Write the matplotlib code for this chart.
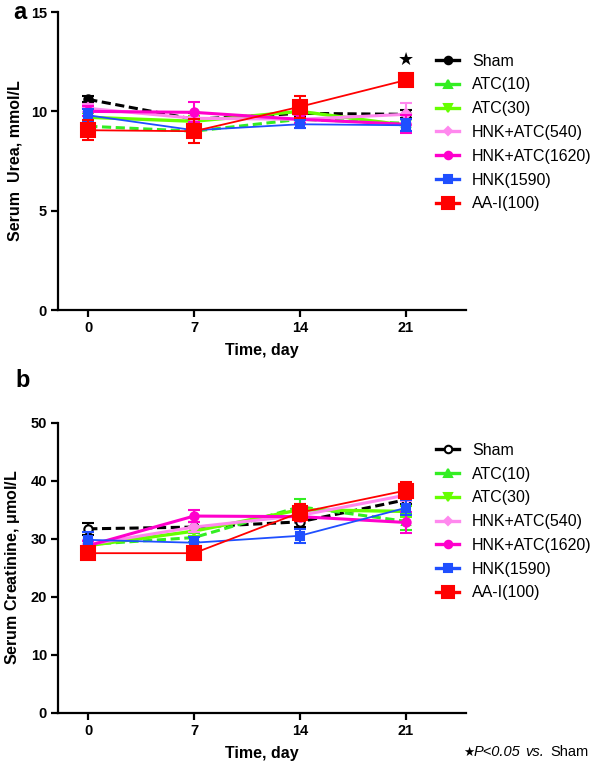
import matplotlib

matplotlib.use("Agg")
import matplotlib.pyplot as plt  # noqa: E402
from matplotlib.lines import Line2D  # noqa: E402

plt.rcParams["font.family"] = ["Liberation Sans", "DejaVu Sans"]

DAYS = [0, 7, 14, 21]
GROUPS = ["Sham", "ATC(10)", "ATC(30)", "HNK+ATC(540)", "HNK+ATC(1620)", "HNK(1590)", "AA-I(100)"]

# serum urea, mmol/L (mean, sem)
UREA = [
    [10.6, 9.6, 9.9, 9.85],
    [9.25, 9.0, 9.6, 9.4],
    [9.7, 9.5, 10.0, 9.3],
    [10.15, 9.65, 9.6, 9.85],
    [10.0, 9.95, 9.6, 9.35],
    [9.8, 9.05, 9.35, 9.3],
    [9.05, 9.0, 10.23, 11.57],
]
UREA_SEM = [
    [0.15, 0.3, 0.2, 0.2],
    [0.2, 0.3, 0.25, 0.4],
    [0.2, 0.25, 0.2, 0.3],
    [0.2, 0.3, 0.25, 0.55],
    [0.25, 0.5, 0.2, 0.45],
    [0.3, 0.3, 0.2, 0.3],
    [0.5, 0.6, 0.55, 0.3],
]

# serum creatinine, umol/L (mean, sem)
CREA = [
    [31.7, 32.0, 32.9, 36.7],
    [29.0, 30.2, 35.5, 33.0],
    [28.8, 31.3, 35.0, 34.7],
    [29.0, 32.0, 34.0, 37.5],
    [28.8, 33.9, 33.8, 32.8],
    [29.8, 29.3, 30.5, 35.3],
    [27.5, 27.5, 34.5, 38.3],
]
CREA_SEM = [
    [1.0, 0.8, 0.8, 0.8],
    [0.8, 0.8, 1.3, 1.5],
    [0.8, 0.8, 1.0, 1.0],
    [0.8, 0.8, 1.0, 1.0],
    [0.8, 1.0, 0.8, 1.8],
    [1.3, 1.0, 1.2, 1.3],
    [0.8, 0.8, 1.5, 1.5],
]

STYLES = [
    dict(color="black", ls=(0, (3, 1.5)), lw=2.2, marker="o", ms=6),
    dict(color="#33ee22", ls=(0, (3, 1.5)), lw=2.2, marker="^", ms=6),
    dict(color="#66ff00", ls="-", lw=2.4, marker="v", ms=6),
    dict(color="#ff88ee", ls="-", lw=2.2, marker="D", ms=5),
    dict(color="#ff00cc", ls="-", lw=2.2, marker="o", ms=6),
    dict(color="#1f4fff", ls="-", lw=1.3, marker="s", ms=6),
    dict(color="#ff0000", ls="-", lw=1.3, marker="s", ms=10),
]


def _panel(ax, means, sems, ymax, yticks, ylabel, open_sham):
    handles = []
    for i, (name, m, e, st) in enumerate(zip(GROUPS, means, sems, STYLES)):
        mfc = "white" if (open_sham and i == 0) else st["color"]
        ax.errorbar(DAYS, m, yerr=e, color=st["color"], ls=st["ls"], lw=st["lw"],
                    marker=st["marker"], ms=st["ms"], mfc=mfc, mec=st["color"],
                    mew=1.5, capsize=4, elinewidth=1.5, capthick=1.5,
                    zorder=3 + i)
        handles.append(Line2D([], [], color=st["color"], ls="-", lw=2.4,
                              marker=st["marker"], ms=st["ms"] * 0.9, mfc=mfc,
                              mec=st["color"], mew=1.5, label=name))
    ax.set_xlim(-2, 25)
    ax.set_ylim(0, ymax)
    ax.set_xticks(DAYS)
    ax.set_yticks(yticks)
    for s in ("top", "right"):
        ax.spines[s].set_visible(False)
    for s in ("left", "bottom"):
        ax.spines[s].set_linewidth(1.6)
    ax.tick_params(width=1.6, length=5, labelsize=10.5, pad=3)
    for t in ax.get_xticklabels() + ax.get_yticklabels():
        t.set_fontweight("bold")
    ax.set_xlabel("Time, day", fontsize=11.5, fontweight="bold", labelpad=6)
    ax.set_ylabel(ylabel, fontsize=11.5, fontweight="bold", labelpad=6)
    return handles


fig = plt.figure(figsize=(6.0, 7.66), dpi=100)
ax1 = fig.add_axes([0.0967, 0.5953, 0.68, 0.389])
ax2 = fig.add_axes([0.0967, 0.0696, 0.68, 0.3786])

h1 = _panel(ax1, UREA, UREA_SEM, 15, [0, 5, 10, 15], "Serum  Urea, mmol/L", False)
h2 = _panel(ax2, CREA, CREA_SEM, 50, [0, 10, 20, 30, 40, 50],
            "Serum Creatinine, $\\mathregular{\\mu}$mol/L", True)

ax1.text(21, 12.6, "★", ha="center", va="center", fontsize=13, family=["DejaVu Sans"])

for handles, top in ((h1, 0.93), (h2, 0.422)):
    fig.legend(handles=handles, loc="upper left", bbox_to_anchor=(0.727, top), frameon=False,
               fontsize=11.5, handlelength=1.45, handletextpad=0.8, labelspacing=0.55,
               borderpad=0, borderaxespad=0)

fig.text(0.022, 0.999, "a", fontsize=17, fontweight="bold", va="top")
fig.text(0.026, 0.518, "b", fontsize=17, fontweight="bold", va="top")

fig.text(0.772, 0.018, "★", fontsize=9, family=["DejaVu Sans"], va="center")
fig.text(0.789, 0.018, "P<0.05", fontsize=10.5, style="italic", va="center")
fig.text(0.876, 0.018, "vs.", fontsize=10.5, style="italic", va="center")
fig.text(0.917, 0.018, "Sham", fontsize=10.5, va="center")

fig.savefig("out.png", dpi=100)
